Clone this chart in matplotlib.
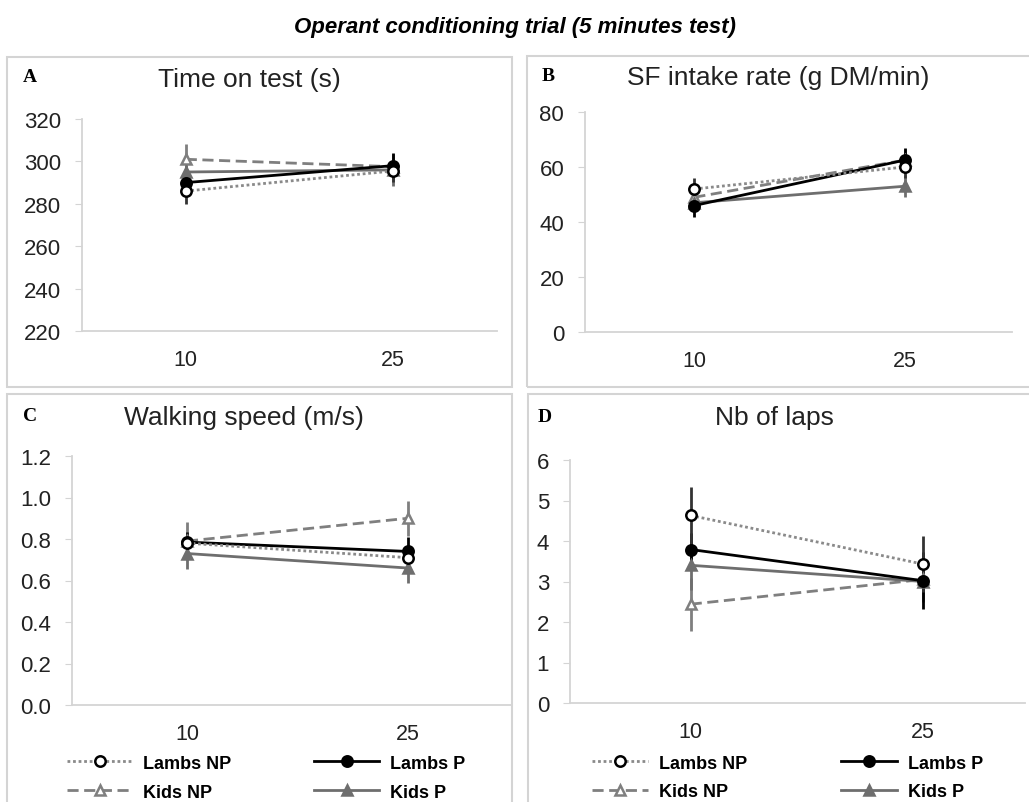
import matplotlib.pyplot as plt
from matplotlib.patches import Rectangle

plt.rcParams['font.family'] = ['Liberation Sans', 'DejaVu Sans']

W, H = 1029, 803

groups = ["10", "25"]
series = ["Lambs NP", "Kids NP", "Lambs P", "Kids P"]

# panel A : time on test (s)
time_mean = {"Lambs NP": [286, 295.5], "Lambs P": [290, 298], "Kids NP": [301, 297.5], "Kids P": [295, 296]}
time_err = {"Lambs NP": [6, 5], "Lambs P": [5, 6], "Kids NP": [7, 5], "Kids P": [5, 7.5]}
# panel B : SF intake rate (g DM/min)
intake_mean = {"Lambs NP": [52, 60], "Lambs P": [46, 62.5], "Kids NP": [49, 62.5], "Kids P": [47, 53]}
intake_err = {"Lambs NP": [4, 4], "Lambs P": [4, 4.5], "Kids NP": [3, 4], "Kids P": [3, 4]}
# panel C : walking speed (m/s)
speed_mean = {"Lambs NP": [0.78, 0.71], "Lambs P": [0.785, 0.74], "Kids NP": [0.79, 0.90], "Kids P": [0.73, 0.66]}
speed_err = {"Lambs NP": [0.05, 0.05], "Lambs P": [0.05, 0.07], "Kids NP": [0.09, 0.085], "Kids P": [0.075, 0.07]}
# panel D : number of laps
laps_mean = {"Lambs NP": [4.63, 3.43], "Lambs P": [3.79, 3.02], "Kids NP": [2.44, 3.05], "Kids P": [3.4, 3.0]}
laps_err = {"Lambs NP": [0.7, 0.7], "Lambs P": [0.4, 0.7], "Kids NP": [0.65, 0.5], "Kids P": [0.6, 0.5]}

styles = {
    "Lambs NP": dict(color="#8a8a8a", ls=(0, (1, 1)), marker="o", mfc="white", mec="black", ecol="#333333"),
    "Kids NP": dict(color="#7f7f7f", ls=(0, (4, 2)), marker="^", mfc="white", mec="#7f7f7f", ecol="#7f7f7f"),
    "Lambs P": dict(color="black", ls="-", marker="o", mfc="black", mec="black", ecol="black"),
    "Kids P": dict(color="#6e6e6e", ls="-", marker="^", mfc="#6e6e6e", mec="#6e6e6e", ecol="#6e6e6e"),
}

panels = [
    # letter, title, means, errs, yticks, fmt, axes px (x0, x1, ytop, ybot), xlim, title px, letter px
    ("A", "Time on test (s)", time_mean, time_err, [220, 240, 260, 280, 300, 320], "{:.0f}",
     (82, 497, 120, 332), (-0.50, 1.50), (249, 80), (30, 78)),
    ("B", "SF intake rate (g DM/min)", intake_mean, intake_err, [0, 20, 40, 60, 80], "{:.0f}",
     (585, 1012, 113, 333), (-0.52, 1.51), (778, 78), (548, 77)),
    ("C", "Walking speed (m/s)", speed_mean, speed_err, [0.0, 0.2, 0.4, 0.6, 0.8, 1.0, 1.2], "{:.1f}",
     (72, 512, 457, 706), (-0.52, 1.47), (244, 418), (30, 417)),
    ("D", "Nb of laps", laps_mean, laps_err, [0, 1, 2, 3, 4, 5, 6], "{:.0f}",
     (570, 1025, 461, 704), (-0.52, 1.44), (774, 418), (545, 418)),
]

fig = plt.figure(figsize=(W / 100, H / 100), dpi=100)

# panel frames
for (x0, y0, x1, y1) in [(7, 58, 512, 388), (527, 57, 1040, 388), (7, 395, 512, 820), (528, 395, 1040, 820)]:
    fig.add_artist(Rectangle((x0 / W, 1 - y1 / H), (x1 - x0) / W, (y1 - y0) / H,
                             transform=fig.transFigure, fill=False, ec="#d4d4d4", lw=1.5))

fig.text(515 / W, 1 - 27 / H, "Operant conditioning trial (5 minutes test)",
         ha="center", va="center", fontsize=16, fontweight="bold", fontstyle="italic")

xpos = [0, 1]
axes = {}
for letter, title, means, errs, yticks, fmt, (x0, x1, yt, yb), xlim, tpos, lpos in panels:
    ax = fig.add_axes([x0 / W, 1 - yb / H, (x1 - x0) / W, (yb - yt) / H])
    axes[letter] = ax
    for s in ["Kids NP", "Kids P", "Lambs P", "Lambs NP"]:
        st = styles[s]
        ax.errorbar(xpos, means[s], yerr=errs[s], fmt="none", ecolor=st["ecol"], elinewidth=2, capsize=0, zorder=2)
    handles = {}
    for s in ["Kids NP", "Kids P", "Lambs P", "Lambs NP"]:
        st = styles[s]
        handles[s], = ax.plot(xpos, means[s], color=st["color"], ls=st["ls"], lw=2,
                              marker=st["marker"], ms=7.5, mfc=st["mfc"], mec=st["mec"], mew=1.8,
                              label=s, zorder=3)
    ax.set_xlim(*xlim)
    ax.set_ylim(yticks[0], yticks[-1])
    ax.set_yticks(yticks)
    ax.set_yticklabels([fmt.format(v) for v in yticks])
    ax.set_xticks(xpos)
    ax.set_xticklabels(groups)
    for sp in ["top", "right"]:
        ax.spines[sp].set_visible(False)
    for sp in ["left", "bottom"]:
        ax.spines[sp].set_color("#d4d4d4")
        ax.spines[sp].set_linewidth(1.3)
    ax.tick_params(axis="y", length=5, color="#d4d4d4", labelsize=16, pad=10, labelcolor="#222222")
    ax.tick_params(axis="x", length=0, labelsize=15.5, pad=13, labelcolor="#222222")
    ax.patch.set_alpha(0)
    fig.text(tpos[0] / W, 1 - tpos[1] / H, title, ha="center", va="center", fontsize=19, color="#222222")
    fig.text(lpos[0] / W, 1 - lpos[1] / H, letter, ha="center", va="center", fontsize=14,
             fontweight="bold", family=["Liberation Serif", "DejaVu Serif"])
    ax._legend_handles = handles

# legends under C and D
for letter, anchor, hl, cs in [("C", (-0.011, -0.2), 3.6, 4.6), ("D", (0.048, -0.213), 3.1, 5.2)]:
    ax = axes[letter]
    h = ax._legend_handles
    ax.legend([h[s] for s in series], series, ncol=2, loc="upper left", bbox_to_anchor=anchor,
              frameon=False, borderaxespad=0, borderpad=0, handlelength=hl, columnspacing=cs,
              handletextpad=0.6, labelspacing=0.65, prop={"weight": "bold", "size": 13})

fig.savefig("out.png", dpi=100)
